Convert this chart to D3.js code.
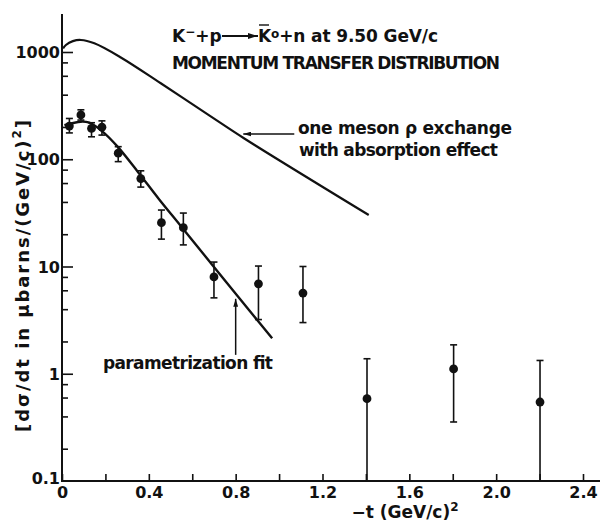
<!DOCTYPE html>
<html>
<head>
<meta charset="utf-8">
<script src="https://cdn.jsdelivr.net/npm/d3@7"></script>
<style>
  body { margin:0; background:#fff; }
  svg text { font-family:"DejaVu Sans", sans-serif; font-weight:bold; fill:#111; }
</style>
</head>
<body>
<div id="plot"></div>
<script>
// measured points: -t, dsigma/dt and the ends of the error bars (null = runs off the axis)
var tVals  = [0.034, 0.087, 0.136, 0.184, 0.259, 0.363, 0.458, 0.559, 0.70, 0.905, 1.11, 1.405, 1.804, 2.202];
var dsig   = [204, 259, 194, 199, 114, 66, 25.6, 23, 8.0, 6.9, 5.65, 0.585, 1.11, 0.545];
var errHi  = [240, 289, 219, 228, 131, 78, 33.6, 31.5, 11, 10.1, 10, 1.38, 1.86, 1.33];
var errLo  = [176, 232, 162, 168, 95, 55, 18, 15.9, 5.1, 3.2, 3.0, null, 0.355, null];

// one meson exchange curve
var theoryT = [0.005, 0.018, 0.05, 0.087, 0.149, 0.271, 0.455, 0.685, 0.838, 1.413];
var theoryV = [1080, 1162, 1262, 1294, 1205, 890, 511, 251, 157, 30.2];

// parametrization fit
var fitT = [0.011, 0.087, 0.126, 0.187, 0.256, 0.348, 0.447, 0.547, 0.70, 0.968];
var fitV = [208, 224, 219, 181, 131, 77, 42.4, 23.9, 9.9, 2.14];

var xTickVals = [0, 0.4, 0.8, 1.2, 1.6, 2.0, 2.4];
var xTickLabels = ['0', '0.4', '0.8', '1.2', '1.6', '2.0', '2.4'];
var xMinorVals = [0, 0.2, 0.4, 0.6, 0.8, 1.0, 1.2, 1.4, 1.6, 1.8, 2.0, 2.2, 2.4];
var yTickVals = [0.1, 1, 10, 100, 1000];
var yTickLabels = ['0.1', '1', '10', '100', '1000'];
var yMinorVals = [0.2, 0.4, 0.6, 0.8, 2, 4, 6, 8, 20, 40, 60, 80, 200, 400, 600, 800];

var W = 600, H = 527;
var ink = '#111';

var svg = d3.select('#plot').append('svg')
  .attr('width', W).attr('height', H);

var x = d3.scaleLinear().domain([0, 2.4]).range([62, 583]);
var y = d3.scaleLog().domain([0.1, 1000]).range([481, 52]);
var yTop = 14;

//axes
svg.append('line')
  .attr('x1', x(0)).attr('x2', x(0)).attr('y1', yTop).attr('y2', y(0.1))
  .attr('stroke', ink).attr('stroke-width', 2);
svg.append('line')
  .attr('x1', x(0) - 1).attr('x2', W).attr('y1', y(0.1)).attr('y2', y(0.1))
  .attr('stroke', ink).attr('stroke-width', 2);

var gxMinor = svg.append('g').attr('transform', 'translate(0,' + y(0.1) + ')')
  .call(d3.axisTop(x).tickValues(xMinorVals).tickSize(7).tickFormat(''));
var gx = svg.append('g').attr('transform', 'translate(0,' + y(0.1) + ')')
  .call(d3.axisBottom(x).tickValues(xTickVals).tickSize(0).tickPadding(6)
    .tickFormat(function(d, i) { return xTickLabels[i]; }));

var gyMinor = svg.append('g').attr('transform', 'translate(' + x(0) + ',0)')
  .call(d3.axisRight(y).tickValues(yMinorVals).tickSize(6).tickFormat(''));
var gyMajor = svg.append('g').attr('transform', 'translate(' + x(0) + ',0)')
  .call(d3.axisRight(y).tickValues(yTickVals.slice(1)).tickSize(11).tickFormat(''));
var gy = svg.append('g').attr('transform', 'translate(' + x(0) + ',0)')
  .call(d3.axisLeft(y).tickValues(yTickVals).tickSize(0).tickPadding(2)
    .tickFormat(function(d, i) { return yTickLabels[i]; }));

[gxMinor, gx, gyMinor, gyMajor, gy].forEach(function(g) {
  g.select('.domain').remove();
  g.selectAll('line').attr('stroke', ink).attr('stroke-width', 1.6);
  g.selectAll('text').attr('font-size', 16).attr('fill', ink)
    .style('font-family', '"DejaVu Sans", sans-serif').style('font-weight', 'bold');
});
gy.selectAll('text').attr('dy', '0.35em');
gy.selectAll('.tick').filter(function(d) { return d == 0.1; }).select('text').attr('dy', '0.15em');

//axis titles
var xt = svg.append('text').attr('x', 405).attr('y', 518).attr('text-anchor', 'middle').attr('font-size', 17);
xt.append('tspan').text('\u2212t (GeV/c)');
xt.append('tspan').attr('font-size', 12).attr('dy', -7).text('2');

var yt = svg.append('text')
  .attr('transform', 'translate(29,276) rotate(-90)')
  .attr('text-anchor', 'middle').attr('font-size', 18).attr('textLength', 312);
yt.append('tspan').text('[d\u03c3/dt in \u03bcbarns/(GeV/c)');
yt.append('tspan').attr('font-size', 12).attr('dy', -8).text('2');
yt.append('tspan').attr('dy', 8).text(']');

//curves
var line = d3.line()
  .x(function(d) { return x(d[0]); })
  .y(function(d) { return y(d[1]); })
  .curve(d3.curveCatmullRom.alpha(0.5));

svg.append('path')
  .datum(theoryT.map(function(t, i) { return [t, theoryV[i]]; }))
  .attr('d', line).attr('fill', 'none').attr('stroke', ink).attr('stroke-width', 2.2);

svg.append('path')
  .datum(fitT.map(function(t, i) { return [t, fitV[i]]; }))
  .attr('d', line).attr('fill', 'none').attr('stroke', ink).attr('stroke-width', 2.4);

//data points with error bars
var pts = tVals.map(function(t, i) {
  return { t: t, v: dsig[i], hi: errHi[i], lo: errLo[i] };
});
var cap = 3.5;
var pg = svg.append('g');
pts.forEach(function(d) {
  var px = x(d.t);
  var yLo = d.lo == null ? y(0.1) : y(d.lo);
  pg.append('line').attr('x1', px).attr('x2', px).attr('y1', y(d.hi)).attr('y2', yLo)
    .attr('stroke', ink).attr('stroke-width', 1.6);
  pg.append('line').attr('x1', px - cap).attr('x2', px + cap).attr('y1', y(d.hi)).attr('y2', y(d.hi))
    .attr('stroke', ink).attr('stroke-width', 1.6);
  if (d.lo != null) {
    pg.append('line').attr('x1', px - cap).attr('x2', px + cap).attr('y1', yLo).attr('y2', yLo)
      .attr('stroke', ink).attr('stroke-width', 1.6);
  }
  pg.append('circle').attr('cx', px).attr('cy', y(d.v)).attr('r', 4.4).attr('fill', ink);
});

//arrow heads
var defs = svg.append('defs');
defs.append('marker').attr('id', 'ah').attr('viewBox', '0 0 10 6')
  .attr('refX', 10).attr('refY', 3).attr('markerWidth', 8).attr('markerHeight', 5)
  .attr('markerUnits', 'userSpaceOnUse').attr('orient', 'auto')
  .append('path').attr('d', 'M0,0 L10,3 L0,6 Z').attr('fill', ink);
defs.append('marker').attr('id', 'ahBig').attr('viewBox', '0 0 10 6')
  .attr('refX', 10).attr('refY', 3).attr('markerWidth', 13).attr('markerHeight', 6)
  .attr('markerUnits', 'userSpaceOnUse').attr('orient', 'auto')
  .append('path').attr('d', 'M0,0 L10,3 L0,6 Z').attr('fill', ink);

//annotation for the exchange curve
var tipY = 134;
svg.append('line').attr('x1', x(1.07)).attr('x2', x(0.835)).attr('y1', tipY).attr('y2', tipY)
  .attr('stroke', ink).attr('stroke-width', 1.5).attr('marker-end', 'url(#ah)');
svg.append('text').attr('x', 298).attr('y', 134).attr('font-size', 17).attr('textLength', 214)
  .text('one meson \u03c1 exchange');
svg.append('text').attr('x', 299).attr('y', 156).attr('font-size', 17).attr('textLength', 199)
  .text('with absorption effect');

//annotation for the fit
svg.append('line').attr('x1', x(0.8)).attr('x2', x(0.8)).attr('y1', y(1.5)).attr('y2', y(5.0))
  .attr('stroke', ink).attr('stroke-width', 1.5).attr('marker-end', 'url(#ah)');
svg.append('text').attr('x', 103).attr('y', 369).attr('font-size', 17).attr('textLength', 170)
  .text('parametrization fit');

//title
var t1 = svg.append('text').attr('x', 172).attr('y', 42).attr('font-size', 17);
t1.append('tspan').text('K');
t1.append('tspan').attr('font-size', 12).attr('dy', -6).text('\u2212');
t1.append('tspan').attr('dy', 6).text('+p');
svg.append('line').attr('x1', 222).attr('x2', 258).attr('y1', 36).attr('y2', 36)
  .attr('stroke', ink).attr('stroke-width', 1.8).attr('marker-end', 'url(#ahBig)');
var t2 = svg.append('text').attr('x', 258).attr('y', 42).attr('font-size', 17).attr('textLength', 180);
t2.append('tspan').text('K');
t2.append('tspan').attr('font-size', 12).attr('dy', -4).text('o');
t2.append('tspan').attr('dy', 4).text('+n  at 9.50 GeV/c');
svg.append('line').attr('x1', 259).attr('x2', 269).attr('y1', 25).attr('y2', 25)
  .attr('stroke', ink).attr('stroke-width', 1.4);
svg.append('text').attr('x', 172).attr('y', 69).attr('font-size', 17).attr('textLength', 328)
  .text('MOMENTUM  TRANSFER  DISTRIBUTION');
</script>
</body>
</html>
